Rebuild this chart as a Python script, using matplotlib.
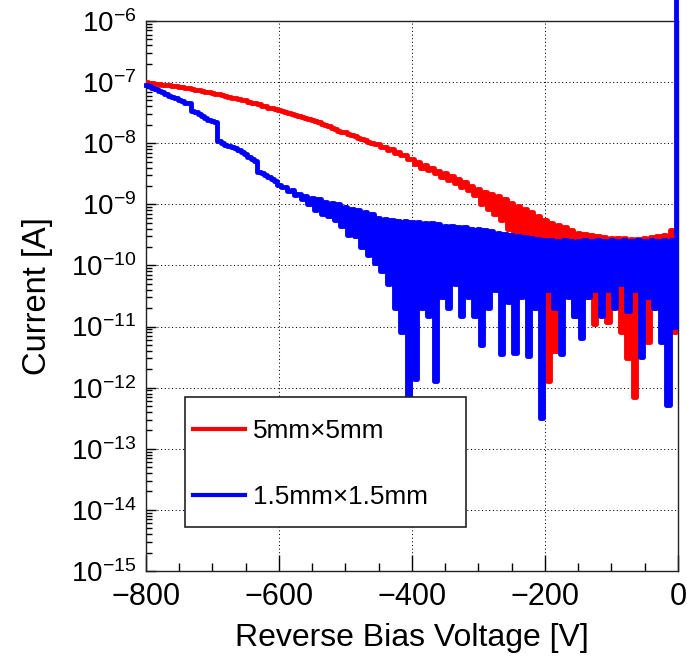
import numpy as np
import matplotlib
matplotlib.use("Agg")
import matplotlib.pyplot as plt
from matplotlib.ticker import LogLocator, MultipleLocator, NullFormatter
from matplotlib.patches import Rectangle

plt.rcParams['font.family'] = ['Liberation Sans', 'DejaVu Sans']

# bias voltage grid [V], one reading every 5 V
volt = np.arange(-800, 1, 5)

# 5mm x 5mm sensor, leakage current [A]
cur_5mm = [
    1.00e-7, 9.8e-8, 9.6e-8, 9.4e-8, 9.3e-8, 9.1e-8, 8.9e-8, 8.8e-8, 8.6e-8, 8.5e-8,
    8.4e-8, 8.2e-8, 8.1e-8, 7.9e-8, 7.7e-8, 7.5e-8, 7.3e-8, 7.1e-8, 6.9e-8, 6.8e-8,
    6.6e-8, 6.4e-8, 6.3e-8, 6.1e-8, 5.9e-8, 5.7e-8, 5.5e-8, 5.4e-8, 5.2e-8, 5.1e-8,
    5.0e-8, 4.8e-8, 4.6e-8, 4.5e-8, 4.3e-8, 4.1e-8, 4.0e-8, 3.8e-8, 3.7e-8, 3.6e-8,
    3.5e-8, 3.4e-8, 3.2e-8, 3.1e-8, 3.0e-8, 2.9e-8, 2.8e-8, 2.7e-8, 2.6e-8, 2.5e-8,
    2.4e-8, 2.3e-8, 2.2e-8, 2.1e-8, 2.0e-8, 1.9e-8, 1.8e-8, 1.7e-8, 1.6e-8, 1.55e-8,
    1.5e-8, 1.43e-8, 1.36e-8, 1.3e-8, 1.23e-8, 1.17e-8, 1.11e-8, 1.06e-8, 1.01e-8, 9.8e-9,
    9.6e-9, 8.6e-9, 8.7e-9, 7.8e-9, 7.9e-9, 7.0e-9, 7.1e-9, 6.3e-9, 6.4e-9, 5.6e-9,
    5.6e-9, 4.6e-9, 5.0e-9, 4.0e-9, 4.4e-9, 3.6e-9, 4.0e-9, 3.2e-9, 3.5e-9, 2.8e-9,
    3.3e-9, 2.5e-9, 2.9e-9, 2.2e-9, 2.6e-9, 1.9e-9, 2.3e-9, 1.7e-9, 2.0e-9, 1.4e-9,
    1.8e-9, 1.0e-9, 1.6e-9, 8.5e-10, 1.5e-9, 7.0e-10, 1.35e-9, 5.5e-10, 1.2e-9, 4.0e-10,
    1.05e-9, 2.5e-10, 9.5e-10, 2.0e-10, 8.5e-10, 1.0e-10, 7.5e-10, 2.0e-10, 6.5e-10, 1.5e-10,
    5.5e-10, 1.3e-12, 5.0e-10, 4.0e-12, 4.6e-10, 2.0e-11, 4.2e-10, 8.0e-11, 3.8e-10, 1.5e-11,
    3.4e-10, 6.0e-11, 3.3e-10, 3.0e-11, 3.1e-10, 1.1e-11, 3.0e-10, 5.0e-11, 2.9e-10, 1.2e-11,
    2.8e-10, 4.0e-11, 2.8e-10, 8.0e-12, 2.8e-10, 3.0e-12, 2.7e-10, 7.0e-13, 2.7e-10, 3.0e-11,
    2.8e-10, 5.5e-12, 2.9e-10, 2.0e-11, 3.0e-10, 2.5e-11, 3.2e-10, 1.5e-11, 3.8e-10, 8.0e-12,
    4.0e-10,
]

# 1.5mm x 1.5mm sensor, leakage current [A]
cur_15mm = [
    9.0e-8, 8.5e-8, 8.0e-8, 7.6e-8, 7.2e-8, 6.8e-8, 6.4e-8, 6.0e-8, 5.7e-8, 5.4e-8,
    5.1e-8, 4.9e-8, 4.6e-8, 4.5e-8, 3.4e-8, 3.2e-8, 3.0e-8, 2.8e-8, 2.6e-8, 2.4e-8,
    2.3e-8, 2.2e-8, 1.1e-8, 1.0e-8, 9.5e-9, 9.0e-9, 8.6e-9, 8.2e-9, 7.8e-9, 7.2e-9,
    6.6e-9, 6.0e-9, 5.6e-9, 5.2e-9, 3.4e-9, 3.2e-9, 3.0e-9, 2.8e-9, 2.6e-9, 2.4e-9,
    2.1e-9, 1.9e-9, 1.9e-9, 1.65e-9, 1.7e-9, 1.4e-9, 1.5e-9, 1.2e-9, 1.35e-9, 1.0e-9,
    1.25e-9, 8.0e-10, 1.2e-9, 7.0e-10, 1.1e-9, 6.5e-10, 1.05e-9, 5.5e-10, 1.0e-9, 4.5e-10,
    9.0e-10, 3.2e-10, 8.5e-10, 3.0e-10, 8.0e-10, 2.0e-10, 7.5e-10, 1.5e-10, 7.0e-10, 1.1e-10,
    6.0e-10, 8.0e-11, 5.8e-10, 5.0e-11, 5.6e-10, 2.0e-11, 5.4e-10, 8.0e-12, 5.3e-10, 7.0e-13,
    5.2e-10, 1.4e-12, 5.1e-10, 2.0e-11, 5.0e-10, 1.5e-11, 4.9e-10, 1.3e-12, 4.8e-10, 3.0e-11,
    4.5e-10, 2.0e-11, 4.4e-10, 5.0e-11, 4.3e-10, 1.5e-11, 4.2e-10, 3.0e-11, 4.0e-10, 1.5e-11,
    3.9e-10, 5.0e-12, 3.8e-10, 2.0e-11, 3.6e-10, 4.0e-11, 3.4e-10, 3.5e-12, 3.3e-10, 2.5e-11,
    3.2e-10, 3.7e-12, 3.0e-10, 3.0e-11, 2.9e-10, 3.3e-12, 2.8e-10, 2.0e-11, 2.7e-10, 3.2e-13,
    2.6e-10, 4.0e-11, 2.6e-10, 2.0e-11, 2.5e-10, 3.5e-12, 2.6e-10, 3.0e-11, 2.5e-10, 1.5e-11,
    2.5e-10, 6.5e-12, 2.6e-10, 3.0e-11, 2.5e-10, 4.0e-11, 2.6e-10, 1.5e-11, 2.5e-10, 4.0e-11,
    2.6e-10, 2.0e-11, 2.5e-10, 5.0e-11, 2.6e-10, 1.8e-11, 2.5e-10, 4.0e-11, 2.6e-10, 3.2e-12,
    2.5e-10, 3.0e-11, 2.6e-10, 2.0e-11, 2.5e-10, 5.6e-12, 2.6e-10, 5.2e-13, 2.6e-10, 1.0e-11,
    5.0e-6,
]

labels = ["5mm\u00d75mm", "1.5mm\u00d71.5mm"]
colors = ["#ff0000", "#0000ff"]

fig = plt.figure(figsize=(6.87, 6.62), dpi=100)
ax = fig.add_axes([0.2125, 0.1375, 0.7743, 0.8308])

ax.plot(volt, cur_5mm, color=colors[0], lw=3.5, zorder=3, drawstyle='steps-mid')
ax.plot(volt, cur_15mm, color=colors[1], lw=3.5, zorder=4, drawstyle='steps-mid', clip_on=False)

ax.set_yscale('log')
ax.set_xlim(-800, 0)
ax.set_ylim(1e-15, 1e-6)

ax.xaxis.set_major_locator(MultipleLocator(200))
ax.xaxis.set_minor_locator(MultipleLocator(50))
ax.yaxis.set_major_locator(LogLocator(base=10, numticks=20))
ax.yaxis.set_minor_locator(LogLocator(base=10, subs=np.arange(2, 10), numticks=20))
ax.yaxis.set_minor_formatter(NullFormatter())

ax.tick_params(axis='x', which='major', direction='in', length=11.5, width=1, labelsize=22, pad=8)
ax.tick_params(axis='x', which='minor', direction='in', length=5.8, width=1)
ax.tick_params(axis='y', which='major', direction='in', length=7.2, width=1, labelsize=20, pad=7)
ax.tick_params(axis='y', which='minor', direction='in', length=4.5, width=1)

ax.grid(True, which='major', color='black', lw=0.75, linestyle=(0, (1, 2.5)), zorder=1)
ax.set_axisbelow(True)
for s in ax.spines.values():
    s.set_linewidth(1.0)
    s.set_color('#222222')

ax.set_xlabel("Reverse Bias Voltage [V]", fontsize=23, labelpad=8)
ax.set_ylabel("Current [A]", fontsize=23.5, labelpad=13)

# legend box drawn in axes coordinates
ax.add_patch(Rectangle((0.0733, 0.08), 0.5276, 0.2364, transform=ax.transAxes,
                       facecolor='white', edgecolor='#222222', lw=1.2, zorder=6))
for yy, lab, col in zip([0.2582, 0.1382], labels, colors):
    ax.plot([0.0883, 0.186], [yy, yy], transform=ax.transAxes, color=col, lw=3.0, zorder=7)
    ax.text(0.201, yy, lab, transform=ax.transAxes, fontsize=18.8, va='center_baseline', zorder=7)

fig.savefig("out.png", dpi=100)
